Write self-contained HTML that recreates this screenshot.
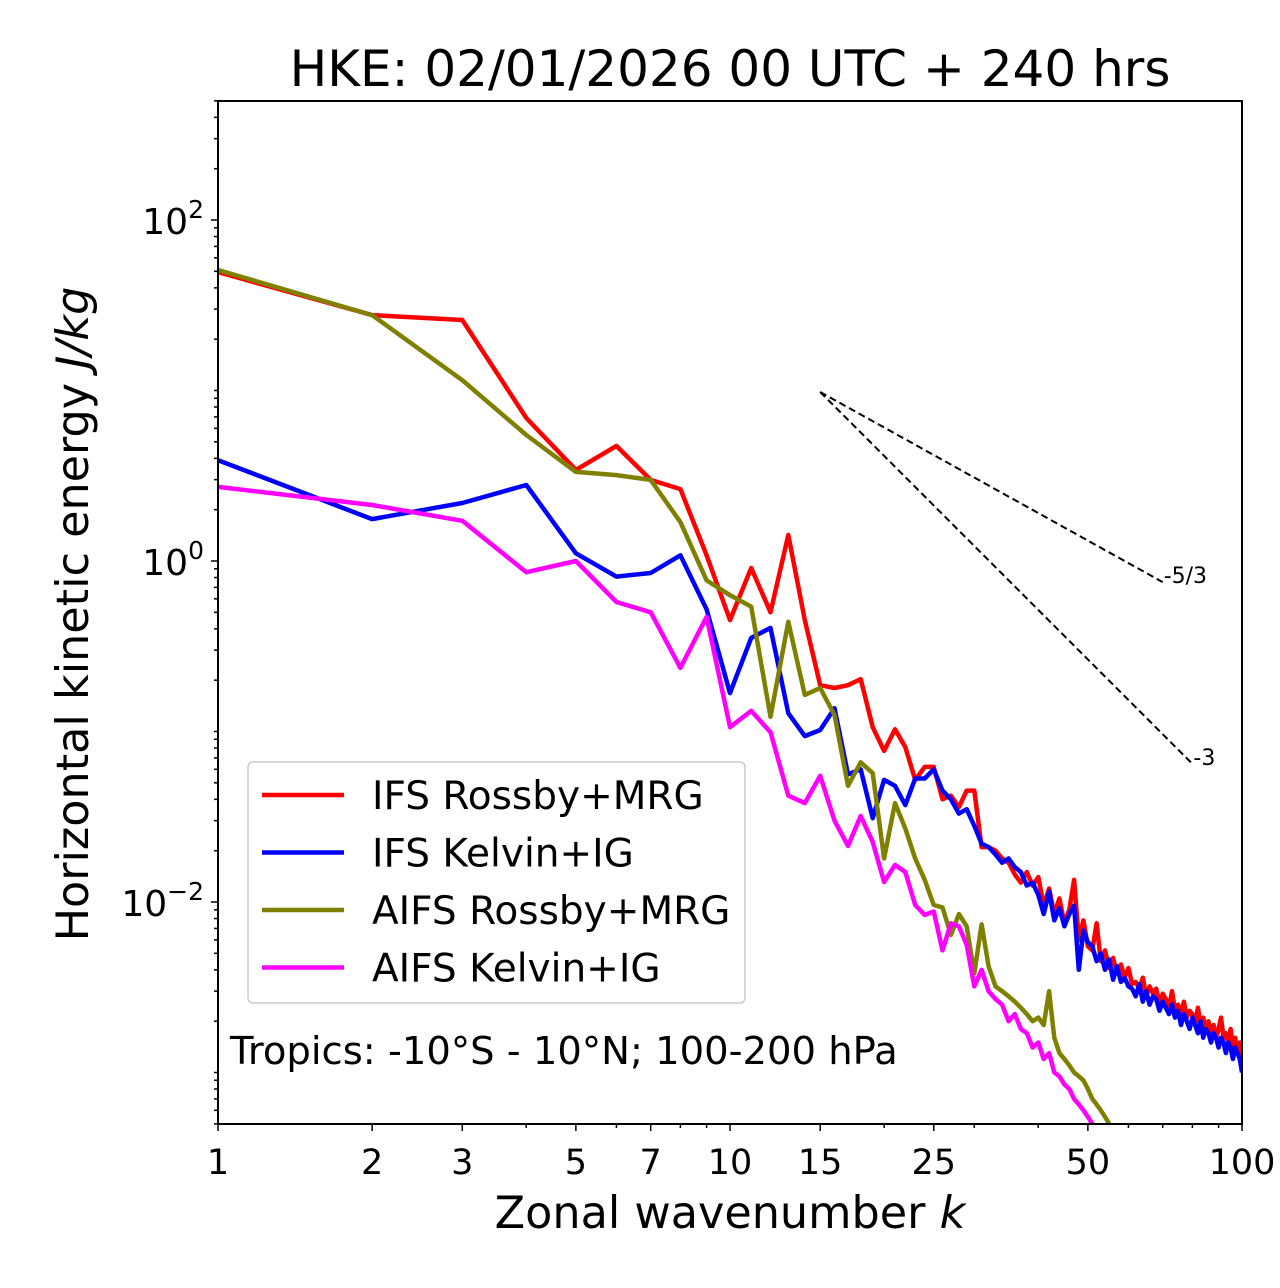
<!DOCTYPE html>
<html><head><meta charset="utf-8"><style>
html,body{margin:0;padding:0;background:#fff;}
svg{display:block;font-family:"DejaVu Sans","Liberation Sans",sans-serif;}
</style></head><body>
<svg id="chart" width="1280" height="1288" viewBox="0 0 1280 1288" xmlns="http://www.w3.org/2000/svg">
<text x="730" y="86" font-size="50" text-anchor="middle">HKE: 02/01/2026 00 UTC + 240 hrs</text>
<text x="730" y="1228" font-size="44.5" text-anchor="middle">Zonal wavenumber <tspan font-style="italic">k</tspan></text>
<text transform="translate(88,614) rotate(-90)" font-size="44.5" text-anchor="middle">Horizontal kinetic energy <tspan font-style="italic">J/kg</tspan></text>
<g id="plot"></g>
</svg>
<script>
const ifsRossby=[49.5,27.7,25.9,6.9,3.42,4.73,2.99,2.64,1.08,0.45,0.91,0.50,1.42,0.45,0.187,0.18,0.187,0.203,0.106,0.077,0.103,0.081,0.052,0.062,0.062,
0.040,0.042,0.036,0.045,0.045,0.021,0.021,0.020,0.018,0.017,0.0145,0.013,0.015,0.0125,0.014,0.0095,0.012,0.0085,0.0105,0.0075,0.009,0.0135,0.006,0.0078,0.0055,0.0052,0.0075,0.0045,0.0052,0.0041,0.0047,0.0038,0.0043,0.0036,0.0041,0.0033,0.0034,0.0031,0.0036,0.0028,0.0032,0.0029,0.0031,0.0025,0.0029,0.0027,0.0024,0.0030,0.0023,0.0025,0.0022,0.0026,0.0021,0.0023,0.0022,0.0019,0.0024,0.0019,0.0021,0.0018,0.0020,0.0017,0.0019,0.0016,0.0018,0.0021,0.0016,0.0017,0.0015,0.0018,0.0014,0.0016,0.0013,0.0015,0.0011];
const ifsKelvin=[3.9,1.76,2.19,2.79,1.11,0.81,0.85,1.08,0.52,0.168,0.354,0.405,0.128,0.094,0.102,0.137,0.056,0.06,0.031,0.052,0.048,0.037,0.053,0.053,0.06,
0.045,0.040,0.033,0.035,0.028,0.022,0.021,0.019,0.017,0.018,0.016,0.015,0.0125,0.013,0.011,0.0085,0.0115,0.0078,0.0092,0.0072,0.0085,0.0095,0.004,0.0068,0.0058,0.0055,0.0045,0.0050,0.0040,0.0046,0.0035,0.0042,0.0034,0.0036,0.0032,0.0031,0.0028,0.0033,0.0026,0.0030,0.0025,0.0028,0.0027,0.0023,0.0026,0.0024,0.0022,0.0025,0.0021,0.0023,0.0019,0.0022,0.0020,0.0018,0.0021,0.0019,0.0017,0.0020,0.0016,0.0018,0.0017,0.0015,0.0017,0.0016,0.0014,0.0016,0.0015,0.0013,0.0015,0.0014,0.0012,0.0014,0.0013,0.0012,0.0010];
const aifsRossby=[50.9,27.7,11.5,5.48,3.33,3.19,2.99,1.69,0.77,0.63,0.54,0.122,0.44,0.164,0.18,0.125,0.048,0.066,0.057,0.018,0.038,0.027,0.018,0.0135,0.0096,
0.0093,0.0064,0.0085,0.0072,0.0038,0.0074,0.0042,0.0032,0.0030,0.0028,0.0026,0.0024,0.0022,0.0020,0.0021,0.0019,0.0030,0.0016,0.0013,0.0012,0.0011,0.0010,0.00095,0.0009,0.0008,0.0007,0.00065,0.0006,0.00055,0.0005];
const aifsKelvin=[2.72,2.13,1.72,0.86,1.0,0.575,0.50,0.236,0.47,0.106,0.132,0.099,0.042,0.038,0.055,0.030,0.0213,0.032,0.0225,0.0131,0.0165,0.015,0.0096,0.0084,0.0088,
0.0052,0.0075,0.0072,0.0056,0.0032,0.0040,0.0030,0.0027,0.0025,0.0020,0.0022,0.0018,0.0017,0.0014,0.0015,0.0012,0.0013,0.0010,0.00095,0.00085,0.0008,0.0007,0.00065,0.0006,0.00055,0.0005,0.00045];
const xTicks=[1,2,3,5,7,10,15,25,50,100];
const yTickExps=[2,0,-2];
const refStartK=15, refStartE=9.8;
const refSlopes=[-5/3,-3], refEndK=[70,80], refLabels=["-5/3","-3"];
const seriesNames=["IFS Rossby+MRG","IFS Kelvin+IG","AIFS Rossby+MRG","AIFS Kelvin+IG"];
const seriesColors=["#ff0000","#0000ff","#808000","#ff00ff"];
const seriesData=[ifsRossby,ifsKelvin,aifsRossby,aifsKelvin];

const L=218,R=1242,T=101,B=1124;
const X=k=>L+512*Math.log10(k);
const Y=e=>561-170.5*Math.log10(e);
const NS="http://www.w3.org/2000/svg";
const g=document.getElementById('plot');
function mk(tag,attrs,parent){const e=document.createElementNS(NS,tag);for(const a in attrs)e.setAttribute(a,attrs[a]);(parent||g).appendChild(e);return e;}
const defs=mk('defs',{});const cp=mk('clipPath',{id:'cp'},defs);mk('rect',{x:L,y:T,width:R-L,height:B-T},cp);
const lines=mk('g',{'clip-path':'url(#cp)'});


seriesData.forEach((d,i)=>{
  const p=d.map((v,j)=>X(j+1).toFixed(1)+','+Y(v).toFixed(1)).join(' ');
  const pl=mk('polyline',{points:p,fill:'none',stroke:seriesColors[i],'stroke-width':4.5,'stroke-linejoin':'round'},lines);
  
  
});
refSlopes.forEach((s,i)=>{
  const e2=refStartE*Math.pow(refEndK[i]/refStartK,s);
  const ln=mk('line',{x1:X(refStartK),y1:Y(refStartE),x2:X(refEndK[i]),y2:Y(e2),stroke:'#000','stroke-width':2,'stroke-dasharray':'7,4'});
  
  
  const t=mk('text',{x:X(refEndK[i])+1,y:Y(e2)+1,'font-size':22});
  t.textContent=refLabels[i];
  
  
});
const fr=mk('rect',{x:L,y:T,width:R-L,height:B-T,fill:'none',stroke:'#000','stroke-width':2});


for(let d=1;d<=100;d*=10)for(let m=1;m<10;m++){const k=d*m;if(k>100)break;
  if(xTicks.includes(k))continue;mk('line',{x1:X(k),x2:X(k),y1:B,y2:B+4,stroke:'#000','stroke-width':1.5});}
xTicks.forEach(k=>{mk('line',{x1:X(k),x2:X(k),y1:B,y2:B+7,stroke:'#000','stroke-width':1.5});
  const t=mk('text',{x:X(k),y:B+50,'font-size':35,'text-anchor':'middle'});t.textContent=k;
  
  });
for(let p=-4;p<=2;p++)for(let m=1;m<10;m++){const e=m*Math.pow(10,p);const y=Y(e);if(y<T-0.5||y>B+0.5)continue;
  const major=(m===1&&yTickExps.includes(p));mk('line',{x1:L-(major?7:4),x2:L,y1:y,y2:y,stroke:'#000','stroke-width':1.5});}
yTickExps.forEach(p=>{const t=mk('text',{x:L-14,y:Y(Math.pow(10,p))+14,'font-size':36,'text-anchor':'end'});
  t.innerHTML='10<tspan dy="-16" font-size="25">'+(p<0?'\u2212'+(-p):p)+'</tspan>';
  
  });
const lg=mk('g',{});


mk('rect',{x:248,y:762,width:497,height:241,rx:5,fill:'#fff','fill-opacity':0.8,stroke:'#ccc','stroke-width':1.5},lg);
seriesNames.forEach((n,i)=>{const y=795+i*57.5;
  const en=mk('g',{},lg);
  
  
  mk('line',{x1:262,x2:344,y1:y,y2:y,stroke:seriesColors[i],'stroke-width':4.5},en);
  const t=mk('text',{x:372,y:y+14,'font-size':39},en);t.textContent=n;});
const an=mk('text',{x:230,y:1064,'font-size':38.5});
an.textContent='Tropics: -10\u00b0S - 10\u00b0N; 100-200 hPa';


</script>
</body></html>
